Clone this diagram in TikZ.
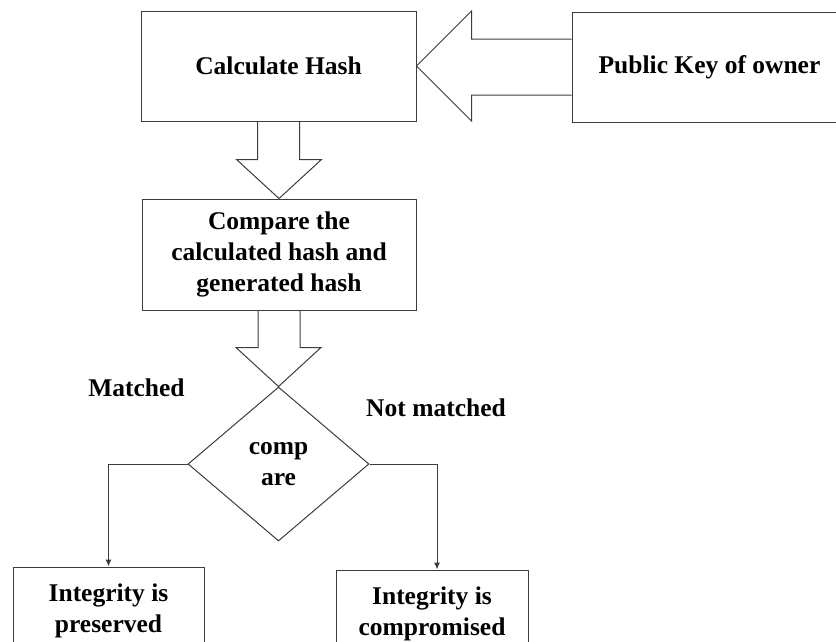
\documentclass[tikz,border=0pt]{standalone}
\usepackage{fontspec}
\setmainfont{Liberation Serif}
\usetikzlibrary{shapes.geometric,arrows.meta}

\definecolor{linegray}{RGB}{60,60,60}

\tikzset{
    box/.style = {draw=linegray, line width=1pt, align=center, inner sep=0pt,
                  font=\fontsize{25.5}{31}\selectfont\bfseries},
    decide/.style = {box, diamond, minimum width=181pt, minimum height=154pt},
    lbl/.style = {font=\fontsize{25.5}{31}\selectfont\bfseries},
    blockarrow/.style = {draw=linegray, line width=1pt, line join=miter},
    flow/.style = {draw=linegray, line width=1pt, -{Latex[length=7pt,width=6pt]}}
}

\begin{document}
\begin{tikzpicture}[x=1pt,y=1pt]
            \useasboundingbox (0,0) rectangle (836,-641);
            \clip (0,0) rectangle (836,-641);
            \node[box, minimum width=275pt, minimum height=110pt] (calc) at (278.5,-66) {Calculate Hash};
            \node[box, minimum width=275pt, minimum height=110pt] (pubkey) at (709.5,-67) {Public Key of owner};
            \node[box, minimum width=274pt, minimum height=111pt] (compare) at (279,-254.5) {Compare the\\calculated hash and\\generated hash};
            \node[decide] (cmp) at (278.5,-464) {comp\\are};
            \node[box, minimum width=191pt, minimum height=88pt] (preserved) at (108.5,-611) {Integrity is\\preserved};
            \node[box, minimum width=192pt, minimum height=88pt] (compromised) at (432,-614) {Integrity is\\compromised};
            \node[lbl] (matched) at (136.5,-388) {Matched};
            \node[lbl] (notmatched) at (436,-408) {Not matched};
            % block arrows
            \draw[blockarrow] ([yshift=28pt]pubkey.west) -| ([xshift=55pt,yshift=55pt]calc.east) -- (calc.east)
                -- ([xshift=55pt,yshift=-55pt]calc.east) |- ([yshift=-28pt]pubkey.west);
            \draw[blockarrow] ([xshift=-21pt]calc.south) |- ([xshift=-42.5pt,yshift=39pt]compare.north) -- (compare.north)
                -- ([xshift=42.5pt,yshift=39pt]compare.north) -| ([xshift=21pt]calc.south);
            \draw[blockarrow] ([xshift=-21pt]compare.south) |- ([xshift=-42.5pt,yshift=39pt]cmp.north) -- (cmp.north)
                -- ([xshift=42.5pt,yshift=39pt]cmp.north) -| ([xshift=21pt]compare.south);
            % decisions
            \draw[flow] (cmp.west) -| (preserved.north);
            \draw[flow] (cmp.east) -| ([xshift=5pt]compromised.north);
        \end{tikzpicture}
\end{document}
